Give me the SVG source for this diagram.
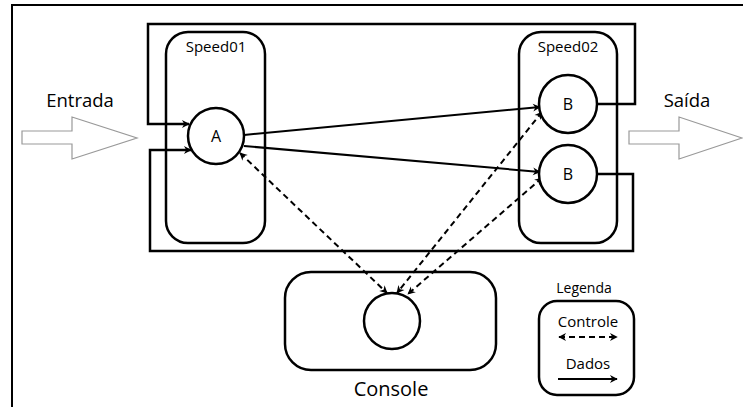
<svg xmlns="http://www.w3.org/2000/svg" width="743" height="407" viewBox="0 0 743 407">
  <style>
    text { font-family: "Open Sans", Lato, "Liberation Sans", sans-serif; fill: #000; text-anchor: middle; }
    .box { fill: none; stroke: #000; stroke-width: 2.5; }
    .node { fill: #fff; stroke: #000; stroke-width: 2.5; }
    .wire { fill: none; stroke: #000; stroke-width: 2.5; }
    .data { fill: none; stroke: #000; stroke-width: 2; marker-end: url(#head); }
    .ctrl { fill: none; stroke: #000; stroke-width: 2; stroke-dasharray: 6 4; marker-start: url(#tail); marker-end: url(#head); }
    .big { fill: #fff; stroke: #999; stroke-width: 1.2; }
  </style>
  <defs>
    <marker id="head" viewBox="0 0 10 10" refX="9" refY="5" markerWidth="6" markerHeight="6" markerUnits="userSpaceOnUse" orient="auto" overflow="visible">
      <path d="M0,0 L10,5 L0,10 L3,5 z" fill="#000" transform="scale(1.3) translate(-2.1,-1.15)"/>
    </marker>
    <marker id="tail" viewBox="0 0 10 10" refX="9" refY="5" markerWidth="6" markerHeight="6" markerUnits="userSpaceOnUse" orient="auto-start-reverse" overflow="visible">
      <path d="M0,0 L10,5 L0,10 L3,5 z" fill="#000" transform="scale(1.3) translate(-2.1,-1.15)"/>
    </marker>
  </defs>

  <rect width="743" height="407" fill="#fff"/>
  <!-- page frame (open on the right and bottom) -->
  <path d="M743,5 H12 V407" fill="none" stroke="#000" stroke-width="2"/>

  <!-- big input / output arrows -->
  <polygon class="big" points="22,131 72,131 72,117 137,138 72,159 72,144 22,144"/>
  <text x="80" y="107" font-size="18.5">Entrada</text>
  <polygon class="big" points="629,131 679,131 679,117 742,138 679,159 679,144 629,144"/>
  <text x="687" y="107" font-size="18.5">Saída</text>

  <g id="connectors">
    <!-- feedback loops from B back to A -->
    <path class="wire" d="M597,104 H635 V24 H148 V124 H189" marker-end="url(#head)"/>
    <path class="wire" d="M597,174 H633 V251 H150 V150 H191" marker-end="url(#head)"/>
    <!-- data flow -->
    <line class="data" x1="244" y1="135" x2="540" y2="107"/>
    <line class="data" x1="244" y1="146" x2="540" y2="172"/>
    <!-- control links -->
    <line class="ctrl" x1="240" y1="153" x2="387" y2="293"/>
    <line class="ctrl" x1="542" y1="112" x2="397" y2="293"/>
    <line class="ctrl" x1="542" y1="178" x2="408" y2="294"/>
  </g>

  <g id="speed01">
    <rect class="box" x="166" y="32" width="99" height="211" rx="22"/>
    <text x="216" y="52" font-size="15">Speed01</text>
  </g>
  <g id="speed02">
    <rect class="box" x="519" y="32" width="98" height="211" rx="22"/>
    <text x="568" y="52" font-size="15">Speed02</text>
  </g>

  <g id="nodeA">
    <circle class="node" cx="216" cy="136" r="28"/>
    <text x="216" y="141.5" font-size="16">A</text>
  </g>
  <g id="nodeB1">
    <circle class="node" cx="568" cy="104" r="29"/>
    <text x="568" y="109.5" font-size="16">B</text>
  </g>
  <g id="nodeB2">
    <circle class="node" cx="568" cy="174" r="29"/>
    <text x="568" y="179.5" font-size="16">B</text>
  </g>

  <g id="console">
    <rect class="box" x="285" y="272" width="211" height="98" rx="26"/>
    <circle class="node" cx="392" cy="321" r="28"/>
    <text x="391" y="396" font-size="20">Console</text>
  </g>

  <g id="legend">
    <text x="584" y="293" font-size="14">Legenda</text>
    <rect class="box" x="539" y="301" width="95" height="94" rx="18"/>
    <text x="588" y="327" font-size="15">Controle</text>
    <line class="ctrl" x1="559" y1="337" x2="617" y2="337"/>
    <text x="588" y="369" font-size="15">Dados</text>
    <line class="data" x1="558" y1="379" x2="617" y2="379"/>
  </g>
</svg>
